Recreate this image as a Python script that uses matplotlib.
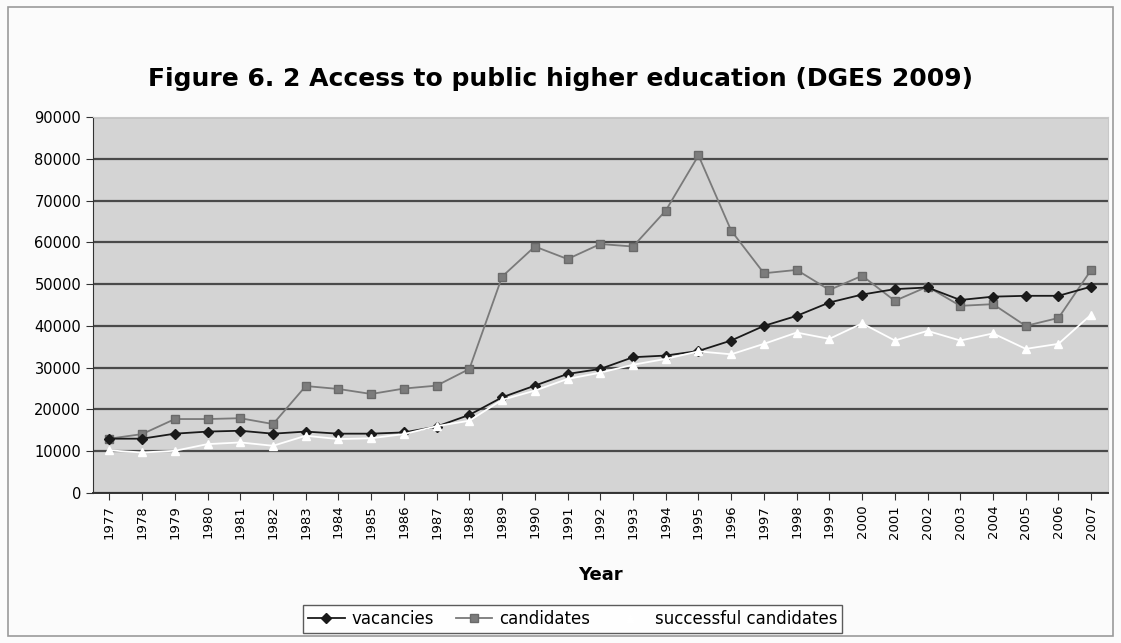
import numpy as np
import matplotlib.pyplot as plt
from matplotlib.patches import Rectangle

# Datos
years = list(range(1977, 2008))
vacancies = [13000, 13000, 14200, 14700, 14900, 14200, 14700, 14200, 14200, 14500,
             15900, 18700, 22900, 25700, 28500, 29700, 32500, 32900, 34000, 36500,
             40000, 42400, 45600, 47500, 48800, 49200, 46200, 47000, 47200, 47200,
             49400]
candidates = [13000, 14100, 17700, 17700, 17900, 16500, 25600, 24900, 23700, 25000,
              25700, 29700, 51800, 59000, 56000, 59600, 59000, 67600, 80800, 62800,
              52600, 53400, 48600, 52000, 46000, 49400, 44800, 45200, 40000, 41900,
              53400]
successful = [10200, 9700, 10100, 11700, 12100, 11300, 13700, 12900, 13100, 14100,
              16000, 17300, 22300, 24500, 27300, 28800, 30700, 32100, 33900, 33200,
              35700, 38400, 36900, 40600, 36500, 38800, 36500, 38200, 34500, 35700,
              42700]

fig = plt.figure(figsize=(11.21, 6.43), dpi=100)
fig.patch.set_facecolor("#fbfbfb")
fig.patches.append(Rectangle((0.007, 0.011), 0.986, 0.978, transform=fig.transFigure,
                             fill=False, edgecolor="#9a9a9a", linewidth=1.2))

ax = fig.add_axes([0.083, 0.2333, 0.905, 0.5847])
ax.set_facecolor("#d4d4d4")

# Gráficas
ax.plot(years, vacancies, color="#1a1a1a", lw=1.3, marker="D", ms=5,
        mfc="#1a1a1a", mec="#1a1a1a", label="vacancies", zorder=4)
ax.plot(years, candidates, color="#7a7a7a", lw=1.3, marker="s", ms=5.8,
        mfc="#7c7c7c", mec="#6a6a6a", label="candidates", zorder=3)
ax.plot(years, successful, color="white", lw=1.3, marker="^", ms=5.8,
        mfc="white", mec="white", label="successful candidates", zorder=5)

ax.set_xlim(1976.5, 2007.5)
ax.set_ylim(0, 90000)
ax.set_yticks(np.arange(0, 90001, 10000))
ax.set_xticks(years)
ax.set_xticklabels([str(y) for y in years], rotation=90, fontsize=9.5)
ax.tick_params(axis="y", labelsize=10.5, length=5, direction="out", color="#333333")
ax.tick_params(axis="x", length=5, direction="out", color="#333333")
ax.grid(axis="y", color="#4a4a4a", lw=1.6)
ax.set_axisbelow(True)

for side in ["top", "right"]:
    ax.spines[side].set_color("#c8c8c8")
ax.spines["left"].set_color("#333333")
ax.spines["bottom"].set_color("#333333")
ax.spines["bottom"].set_linewidth(1.4)

ax.set_xlabel("Year", fontsize=13, fontweight="bold", labelpad=20)

fig.text(0.5, 0.877, "Figure 6. 2 Access to public higher education (DGES 2009)",
         ha="center", va="center", fontsize=18, fontweight="bold")

leg = fig.legend(loc="center", bbox_to_anchor=(0.511, 0.038), ncol=3, fontsize=12,
                 frameon=True, fancybox=False, handlelength=2.2, columnspacing=1.3,
                 handletextpad=0.4, borderpad=0.3)
leg.get_frame().set_edgecolor("#333333")
leg.get_frame().set_facecolor("white")
leg.get_frame().set_linewidth(1.0)

fig.savefig("out.png", dpi=100, facecolor=fig.get_facecolor())
